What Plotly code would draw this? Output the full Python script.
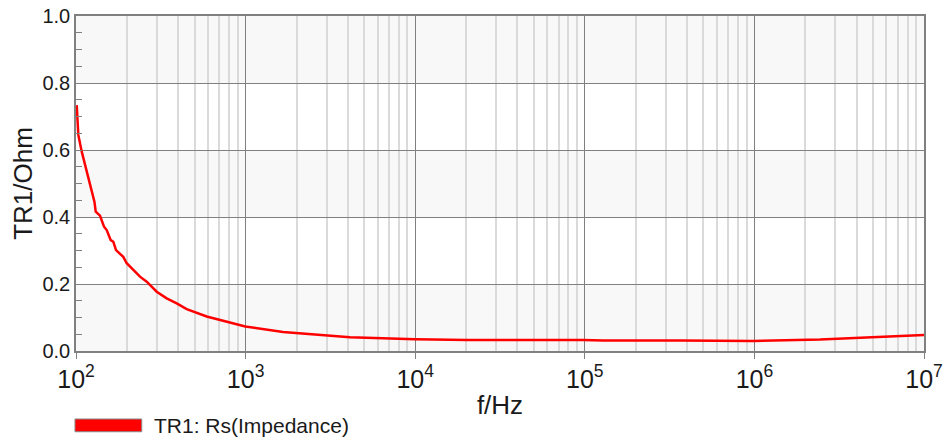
import plotly.graph_objects as go

# Data
freq_hz = [101, 103.2, 108.1, 115.6, 126.5, 128.5, 130.7, 138.5, 142.9, 146.3,
           151.7, 160.2, 166.0, 172.2, 190.0, 199.0, 238.4, 261.2, 299.2, 342.6,
           392.5, 449.5, 589.9, 995.8, 1662, 2746, 4127, 9973, 20200, 97600,
           128000, 364000, 981000, 2437000, 4805000, 7942000, 10000000]
rs_ohm = [0.734, 0.645, 0.595, 0.535, 0.456, 0.445, 0.416, 0.404, 0.385, 0.371,
          0.361, 0.331, 0.326, 0.301, 0.281, 0.262, 0.222, 0.207, 0.177, 0.157,
          0.142, 0.125, 0.103, 0.073, 0.057, 0.047, 0.041, 0.035, 0.033, 0.033,
          0.031, 0.031, 0.030, 0.034, 0.040, 0.045, 0.048]
series_name = "TR1: Rs(Impedance)"
band_ranges = [(0.0, 0.2), (0.4, 0.6), (0.8, 1.0)]

FONT = "Liberation Sans, Arial, sans-serif"
MAJOR = "#808080"
MINOR = "#dadada"
TXT = "#1a1a1a"

fig = go.Figure()
fig.add_trace(go.Scatter(x=freq_hz, y=rs_ohm, mode="lines", name=series_name,
                         line=dict(color="#ff0000", width=2.5), showlegend=False))

for y0, y1 in band_ranges:
    fig.add_shape(type="rect", xref="paper", yref="y", x0=0, x1=1, y0=y0, y1=y1,
                  fillcolor="#f8f8f8", line_width=0, layer="below")

# Legend drawn manually (wide swatch)
fig.add_shape(type="rect", xref="paper", yref="paper", x0=-0.0012, x1=0.0775,
              y0=-0.241, y1=-0.203, fillcolor="#ff0000",
              line=dict(color="#888888", width=1))
fig.add_annotation(xref="paper", yref="paper", x=0.0893, y=-0.222, xanchor="left",
                   yanchor="middle", text=series_name, showarrow=False,
                   font=dict(family=FONT, size=21, color=TXT))

fig.update_layout(
    width=951, height=439,
    margin=dict(l=76, r=27, t=16, b=88),
    paper_bgcolor="white", plot_bgcolor="rgba(0,0,0,0)",
    font=dict(family=FONT, color=TXT),
    showlegend=False,
)
fig.update_xaxes(
    type="log", range=[2, 7], dtick=1, exponentformat="power",
    showgrid=True, gridcolor=MAJOR, gridwidth=1,
    ticks="outside", ticklen=6, tickcolor=MAJOR,
    tickfont=dict(family=FONT, size=20, color=TXT),
    showline=True, linecolor=MAJOR, linewidth=1.5, mirror=True,
    minor=dict(dtick="D1", showgrid=True, gridcolor=MINOR, gridwidth=1.5, ticks=""),
    title=dict(text="f/Hz", font=dict(family=FONT, size=26, color=TXT), standoff=4),
    automargin=False, zeroline=False,
)
fig.update_yaxes(
    range=[0, 1], dtick=0.2, tickformat=".1f",
    showgrid=True, gridcolor=MAJOR, gridwidth=1,
    ticks="inside", ticklen=6, tickcolor=MAJOR,
    tickfont=dict(family=FONT, size=20, color=TXT),
    showline=True, linecolor=MAJOR, linewidth=1.5, mirror=True,
    minor=dict(dtick=0.05, ticks="inside", ticklen=6, tickcolor=MAJOR, showgrid=False),
    title=dict(text="TR1/Ohm", font=dict(family=FONT, size=26, color=TXT), standoff=2),
    automargin=False, zeroline=False,
)

fig.write_html("out.html", config={"displayModeBar": False},
               post_script="document.body.style.margin='0';")
